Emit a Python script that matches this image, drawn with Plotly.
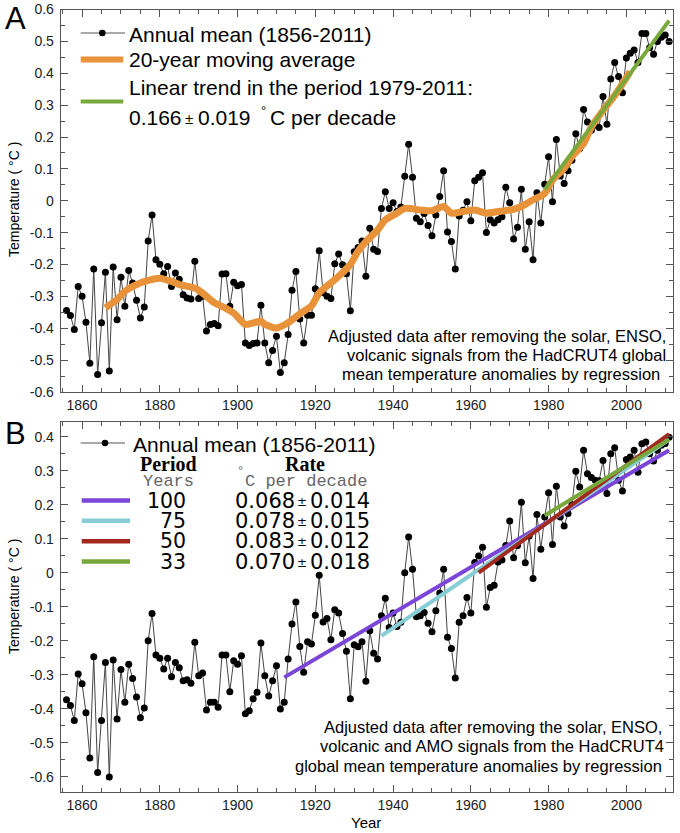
import plotly.graph_objects as go

W, H = 680, 833

# ---------------- data ----------------
years = list(range(1856, 2012))

annual_a = [
    -0.344, -0.360, -0.404, -0.269, -0.300, -0.381, -0.510, -0.214, -0.545, -0.383,
    -0.224, -0.534, -0.208, -0.373, -0.240, -0.331, -0.219, -0.258, -0.312, -0.368,
    -0.333, -0.126, -0.045, -0.185, -0.199, -0.229, -0.206, -0.269, -0.227, -0.246,
    -0.295, -0.305, -0.308, -0.190, -0.307, -0.300, -0.409, -0.388, -0.385, -0.392,
    -0.230, -0.229, -0.331, -0.256, -0.267, -0.263, -0.446, -0.454, -0.448, -0.446,
    -0.328, -0.446, -0.508, -0.470, -0.425, -0.539, -0.508, -0.420, -0.281, -0.222,
    -0.371, -0.446, -0.359, -0.359, -0.276, -0.157, -0.289, -0.300, -0.307, -0.198,
    -0.167, -0.201, -0.229, -0.345, -0.160, -0.147, -0.126, -0.237, -0.086, -0.152,
    -0.159, -0.024, 0.028, -0.024, -0.006, -0.034, -0.020, 0.077, 0.177, 0.074,
    -0.055, -0.066, -0.040, -0.078, -0.110, -0.045, 0.013, 0.094, -0.098, -0.128,
    -0.214, -0.048, -0.030, -0.003, -0.063, 0.063, 0.074, 0.088, -0.100, -0.060,
    -0.070, -0.060, -0.050, 0.042, -0.006, -0.120, -0.083, 0.036, -0.152, -0.066,
    -0.185, 0.025, -0.070, 0.052, 0.138, -0.003, 0.192, 0.078, 0.054, 0.094,
    0.127, 0.210, 0.164, 0.286, 0.247, 0.221, 0.237, 0.230, 0.327, 0.240,
    0.382, 0.434, 0.390, 0.339, 0.448, 0.463, 0.473, 0.434, 0.525, 0.525,
    0.480, 0.460, 0.500, 0.513, 0.520, 0.500,
]

ma_years = [1866, 1869, 1871, 1874, 1877, 1880, 1883, 1885, 1889, 1891, 1894, 1896,
            1899, 1902, 1906, 1907, 1910, 1913, 1916, 1919, 1921, 1924, 1926, 1929,
            1931, 1933, 1936, 1938, 1941, 1943, 1947, 1950, 1953, 1955, 1958, 1961,
            1964, 1967, 1971, 1973, 1976, 1979, 1981, 1984, 1986, 1989, 1991, 1994,
            1997, 1999, 2001]
ma_values = [-0.336, -0.310, -0.284, -0.263, -0.250, -0.243, -0.253, -0.263, -0.274,
             -0.290, -0.320, -0.331, -0.352, -0.388, -0.378, -0.388, -0.399, -0.383,
             -0.355, -0.330, -0.289, -0.258, -0.237, -0.200, -0.158, -0.128, -0.092,
             -0.060, -0.039, -0.024, -0.029, -0.031, -0.018, -0.039, -0.034, -0.029,
             -0.039, -0.034, -0.027, -0.018, 0.003, 0.023, 0.065, 0.101, 0.138,
             0.179, 0.231, 0.283, 0.330, 0.367, 0.405]

trend_a_years = [1979, 2011]
trend_a_values = [0.035, 0.565]

annual_b = [
    -0.374, -0.391, -0.435, -0.298, -0.327, -0.412, -0.545, -0.247, -0.588, -0.435,
    -0.264, -0.601, -0.257, -0.430, -0.285, -0.381, -0.269, -0.311, -0.366, -0.427,
    -0.398, -0.200, -0.120, -0.242, -0.252, -0.283, -0.252, -0.306, -0.264, -0.280,
    -0.318, -0.315, -0.325, -0.205, -0.303, -0.295, -0.404, -0.381, -0.381, -0.396,
    -0.242, -0.242, -0.350, -0.259, -0.269, -0.244, -0.415, -0.406, -0.371, -0.352,
    -0.207, -0.303, -0.363, -0.318, -0.274, -0.401, -0.381, -0.254, -0.151, -0.086,
    -0.217, -0.293, -0.203, -0.210, -0.125, -0.008, -0.145, -0.135, -0.197, -0.109,
    -0.119, -0.179, -0.231, -0.371, -0.212, -0.218, -0.203, -0.319, -0.171, -0.237,
    -0.254, -0.127, -0.075, -0.161, -0.119, -0.158, -0.146, 0.000, 0.105, 0.010,
    -0.130, -0.127, -0.117, -0.149, -0.174, -0.112, -0.060, 0.010, -0.190, -0.223,
    -0.310, -0.146, -0.127, -0.073, -0.119, 0.030, 0.049, 0.075, -0.102, -0.044,
    -0.037, 0.031, 0.037, 0.080, 0.152, 0.044, 0.080, 0.207, 0.029, 0.108,
    -0.017, 0.171, 0.069, 0.164, 0.235, 0.083, 0.254, 0.164, 0.137, 0.174,
    0.200, 0.298, 0.252, 0.360, 0.291, 0.280, 0.272, 0.270, 0.330, 0.233,
    0.350, 0.367, 0.272, 0.240, 0.333, 0.340, 0.360, 0.295, 0.379, 0.384,
    0.350, 0.328, 0.360, 0.375, 0.380, 0.398,
]

trend_periods = ["100", "75", "50", "33"]
trend_rates = ["0.068", "0.078", "0.083", "0.070"]
trend_errors = ["0.014", "0.015", "0.012", "0.018"]
trend_b_years = [[1912, 2011], [1937, 2011], [1962, 2011], [1979, 2011]]
trend_b_values = [[-0.308, 0.360], [-0.186, 0.391], [0.000, 0.407], [0.168, 0.392]]
trend_colors = ["#7B45D8", "#86CDD6", "#A3291F", "#78A83C"]

x_ticks = [1860, 1880, 1900, 1920, 1940, 1960, 1980, 2000]
ya_ticks = [0.6, 0.5, 0.4, 0.3, 0.2, 0.1, 0, -0.1, -0.2, -0.3, -0.4, -0.5, -0.6]
ya_text = ["0.6", "0.5", "0.4", "0.3", "0.2", "0.1", "0", "-0.1", "-0.2", "-0.3", "-0.4", "-0.5", "-0.6"]
yb_ticks = [0.4, 0.3, 0.2, 0.1, 0, -0.1, -0.2, -0.3, -0.4, -0.5, -0.6]
yb_text = ["0.4", "0.3", "0.2", "0.1", "0", "-0.1", "-0.2", "-0.3", "-0.4", "-0.5", "-0.6"]

assert len(annual_a) == len(years) and len(annual_b) == len(years)

# ---------------- helpers ----------------
def px(x):
    return x / W

def py(y):
    return 1 - y / H

FONT = "Liberation Sans, Arial, sans-serif"
SERIF = "Liberation Serif, Times New Roman, serif"
MONO = "Liberation Mono, Courier New, monospace"
VERD = "DejaVu Sans, Verdana, sans-serif"
ORANGE = "#E8923A"
GREEN = "#78A83C"
LINEC = "#555555"

fig = go.Figure()

# Panel A
fig.add_trace(go.Scatter(x=years, y=annual_a, mode="lines+markers",
                         line=dict(color="#444444", width=1),
                         marker=dict(color="black", size=7),
                         xaxis="x", yaxis="y", showlegend=False))
fig.add_trace(go.Scatter(x=ma_years, y=ma_values, mode="lines",
                         line=dict(color=ORANGE, width=7, shape="spline", smoothing=0.6),
                         xaxis="x", yaxis="y", showlegend=False))
fig.add_trace(go.Scatter(x=trend_a_years, y=trend_a_values, mode="lines",
                         line=dict(color=GREEN, width=4),
                         xaxis="x", yaxis="y", showlegend=False))

# Panel B
fig.add_trace(go.Scatter(x=years, y=annual_b, mode="lines+markers",
                         line=dict(color="#444444", width=1),
                         marker=dict(color="black", size=7),
                         xaxis="x2", yaxis="y2", showlegend=False))
for yrs, vals, col in zip(trend_b_years, trend_b_values, trend_colors):
    fig.add_trace(go.Scatter(x=yrs, y=vals, mode="lines",
                             line=dict(color=col, width=4),
                             xaxis="x2", yaxis="y2", showlegend=False))

xdom = [px(60.7), px(673)]
axis_common = dict(showline=True, linecolor=LINEC, linewidth=1, mirror="ticks",
                   ticks="inside", tickcolor=LINEC, ticklen=7, tickwidth=1,
                   showgrid=False, zeroline=False, automargin=False,
                   tickfont=dict(family=FONT, size=14, color="#222"))

fig.update_layout(
    width=W, height=H, margin=dict(l=0, r=0, t=0, b=0, autoexpand=False),
    paper_bgcolor="white", plot_bgcolor="white",
    xaxis=dict(domain=xdom, range=[1854.5, 2012], anchor="y",
               tickvals=x_ticks, ticktext=[str(v) for v in x_ticks],
               minor=dict(dtick=5, tick0=1860, ticks="inside", ticklen=4, tickcolor=LINEC),
               **axis_common),
    yaxis=dict(domain=[py(392), py(9.5)], range=[-0.6, 0.6], anchor="x",
               tickvals=ya_ticks, ticktext=ya_text, ticklabelstandoff=3,
               minor=dict(dtick=0.05, tick0=0, ticks="inside", ticklen=4, tickcolor=LINEC),
               **axis_common),
    xaxis2=dict(domain=xdom, range=[1854.5, 2012], anchor="y2",
                tickvals=x_ticks, ticktext=[str(v) for v in x_ticks],
                minor=dict(dtick=5, tick0=1860, ticks="inside", ticklen=4, tickcolor=LINEC),
                **axis_common),
    yaxis2=dict(domain=[py(792), py(422)], range=[-0.645, 0.443], anchor="x2",
                tickvals=yb_ticks, ticktext=yb_text, ticklabelstandoff=3,
                minor=dict(dtick=0.05, tick0=0, ticks="inside", ticklen=4, tickcolor=LINEC),
                **axis_common),
)

shapes = []
ann = []

def text(x, y, s, size=21, anchor="left", family=FONT, color="black", angle=0, pad=1):
    ann.append(dict(xref="paper", yref="paper", x=px(x), y=py(y), text=s,
                    showarrow=False, xanchor=anchor, yanchor="middle", borderpad=pad,
                    textangle=angle, font=dict(family=family, size=size, color=color)))

def swatch(x0, x1, y, color, width):
    shapes.append(dict(type="line", xref="paper", yref="paper",
                       x0=px(x0), x1=px(x1), y0=py(y), y1=py(y),
                       line=dict(color=color, width=width)))

def dot(x, y, r=3.3):
    shapes.append(dict(type="circle", xref="paper", yref="paper",
                       x0=px(x - r), x1=px(x + r), y0=py(y + r), y1=py(y - r),
                       fillcolor="black", line=dict(color="black", width=0)))

# panel letters
text(15.5, 18, "A", size=31, anchor="center", pad=0)
text(15.5, 433, "B", size=31, anchor="center", pad=0)

# y titles
text(14, 200, "Temperature ( °C )", size=14, anchor="center", angle=-90)
text(14, 597, "Temperature ( °C )", size=14, anchor="center", angle=-90)
# x title
text(366, 822, "Year", size=15, anchor="center")

# legend A
swatch(80.7, 125, 33, "#555555", 1)
dot(102.3, 33)
text(127, 34, "Annual mean (1856-2011)")
swatch(80.7, 123.3, 59.5, ORANGE, 6)
text(127, 60, "20-year moving average")
swatch(80.7, 123.3, 101.5, GREEN, 4)
text(127, 88, "Linear trend in the period 1979-2011:")
text(127, 117, "0.166")
text(189, 118, "±", size=15, anchor="center")
text(196, 117, "0.019")
text(263, 110, "°", size=13, anchor="center")
text(268, 117, "C per decade")

# notes
text(668, 336, "Adjusted data after removing the solar, ENSO,", size=16.5, anchor="right")
text(668, 355, "volcanic signals from the HadCRUT4 global", size=16.5, anchor="right")
text(662, 374, "mean temperature anomalies by regression", size=16.5, anchor="right")

text(664, 727, "Adjusted data after removing the solar, ENSO,", size=16.5, anchor="right")
text(666, 746, "volcanic and AMO signals from the HadCRUT4", size=16.5, anchor="right")
text(664, 766, "global mean temperature anomalies by regression", size=16.5, anchor="right")

# legend B
swatch(80.7, 125, 443, "#555555", 1)
dot(105, 443)
text(131, 444, "Annual mean (1856-2011)")
text(168, 464, "<b>Period</b>", size=20, anchor="center", family=SERIF)
text(305, 464, "<b>Rate</b>", size=20, anchor="center", family=SERIF)
text(168, 481, "Years", size=17, anchor="center", family=MONO, color="#666")
text(240, 472, "°", size=12, anchor="center", family=MONO, color="#666")
text(243, 481, "C per decade", size=17, anchor="left", family=MONO, color="#666")
row_y = [500.5, 520.7, 541.2, 561.5]
for yv, per, rate, err, col in zip(row_y, trend_periods, trend_rates, trend_errors, trend_colors):
    swatch(81.7, 130, yv, col, 4.5)
    text(187, yv, per, size=20.5, anchor="right", family=VERD, pad=0)
    text(234, yv, rate, size=21, anchor="left", family=VERD, pad=0)
    text(302, yv + 1, "±", size=12, anchor="center", family=VERD, pad=0)
    text(309, yv, err, size=21, anchor="left", family=VERD, pad=0)

fig.update_layout(shapes=shapes, annotations=ann)
fig.write_html("out.html", config={"displayModeBar": False},
               post_script="document.body.style.margin='0';")
